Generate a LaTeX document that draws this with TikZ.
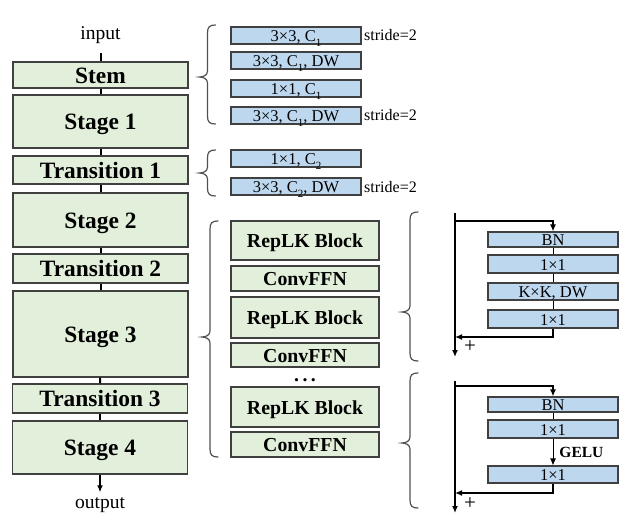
\documentclass[tikz,border=0pt]{standalone}
\usepackage{fontspec}
\setmainfont{Liberation Serif}
\usetikzlibrary{arrows.meta}
\definecolor{boxgreen}{HTML}{E2EFDA}
\definecolor{boxblue}{HTML}{BDD7EE}
\definecolor{boxline}{HTML}{404040}
\definecolor{bracegray}{HTML}{505050}
\newcommand{\lowidx}[1]{\raisebox{-0.3em}{\fontsize{11}{11}\selectfont #1}}
\newcommand{\bracepath}[4]{%
  \draw[bracestyle] (#1+8,#2) .. controls (#1+2,#2) and (#1,#2+2) .. (#1,#2+8)
    -- (#1,#3-6) .. controls (#1,#3-2) and (#1-4,#3) .. (#1-8,#3)
    .. controls (#1-4,#3) and (#1,#3+2) .. (#1,#3+6)
    -- (#1,#4-8) .. controls (#1,#4-2) and (#1+2,#4) .. (#1+8,#4);}
\begin{document}
\begin{tikzpicture}[x=1pt,y=-1pt,
  stagebox/.style={draw=boxline,line width=1.1pt,fill=boxgreen,minimum width=175pt,inner sep=0pt,text height=16pt,text depth=0pt,font=\fontsize{23.4}{24}\selectfont\bfseries},
  blockbox/.style={draw=boxline,line width=1.1pt,fill=boxgreen,minimum width=148pt,inner sep=0pt,text height=14pt,text depth=0pt,font=\fontsize{19.8}{20}\selectfont\bfseries},
  convbox/.style={draw=boxline,line width=1.1pt,fill=boxblue,minimum width=130pt,inner sep=0pt,text height=12.5pt,text depth=0.5pt,font=\fontsize{16.5}{17}\selectfont},
  note/.style={inner sep=0pt,anchor=west,font=\fontsize{16}{17}\selectfont},
  ioText/.style={font=\fontsize{19.5}{20}\selectfont,inner xsep=0pt},
  plusText/.style={inner sep=0pt,font=\fontsize{21}{21}\selectfont},
  flow/.style={line width=2pt,black},
  mainline/.style={line width=2.2pt,black},
  skip/.style={line width=1.5pt,black},
  thinline/.style={line width=0.9pt,black},
  tip/.style={-{Latex[length=7pt,width=6pt]}},
  bracestyle/.style={line width=1.2pt,bracegray,line cap=round}
]
\useasboundingbox (0,0) rectangle (626,525);

% left column
\node[ioText,anchor=base,inner ysep=9pt] (input) at (100.5,39.5) {input};
\node[stagebox,minimum height=26pt] (stem) at (100.5,75) {Stem};
\node[stagebox,minimum height=53pt] (stage1) at (100.5,121.5) {Stage 1};
\node[stagebox,minimum height=28pt] (trans1) at (100.5,170) {Transition 1};
\node[stagebox,minimum height=54pt] (stage2) at (100.5,220) {Stage 2};
\node[stagebox,minimum height=29pt] (trans2) at (100.5,268.5) {Transition 2};
\node[stagebox,minimum height=86pt] (stage3) at (100.5,334) {Stage 3};
\node[stagebox,minimum height=29pt] (trans3) at (100,398.5) {Transition 3};
\node[stagebox,minimum height=53pt] (stage4) at (100,447.5) {Stage 4};
\node[ioText,anchor=base,inner ysep=5pt] (output) at (100,508.5) {output};

\draw[flow] (input) -- (stem);
\draw[flow] (stem) -- (stage1);
\draw[flow] (stage1) -- (trans1);
\draw[flow] (trans1) -- (stage2);
\draw[flow] (stage2) -- (trans2);
\draw[flow] (trans2) -- (stage3);
\draw[flow] (stage3) -- (trans3);
\draw[flow] (trans3) -- (stage4);
\draw[flow,tip] (stage4) -- (output);

% stem / transition details
\node[convbox,minimum height=17pt] (b1) at (296,35.5) {3×3, C\lowidx{1}};
\node[convbox,minimum height=17pt] (b2) at (296,60.5) {3×3, C\lowidx{1}, DW};
\node[convbox,minimum height=17pt] (b3) at (296,88.5) {1×1, C\lowidx{1}};
\node[convbox,minimum height=17pt] (b4) at (296,115.5) {3×3, C\lowidx{1}, DW};
\node[convbox,minimum height=17pt] (b5) at (296,158.5) {1×1, C\lowidx{2}};
\node[convbox,minimum height=17pt] (b6) at (296,186.5) {3×3, C\lowidx{2}, DW};
\node[note] (s1) at (364,35.5) {stride=2};
\node[note] (s2) at (364,115.5) {stride=2};
\node[note] (s3) at (364,187) {stride=2};

\bracepath{207.5}{25}{77}{124}
\bracepath{207.5}{150}{173}{196}

% stage details
\node[blockbox,minimum height=39pt] (r1) at (305,240.5) {RepLK Block};
\node[blockbox,minimum height=25pt] (c1) at (305,278.5) {ConvFFN};
\node[blockbox,minimum height=41pt] (r2) at (305,317.5) {RepLK Block};
\node[blockbox,minimum height=24pt] (c2) at (305,355) {ConvFFN};
\node[inner sep=0pt,anchor=base,font=\fontsize{19.8}{20}\selectfont\bfseries] (dots) at (305,381) {.\hspace{3.5pt}.\hspace{3.5pt}.};
\node[blockbox,minimum height=40pt] (r3) at (305,407) {RepLK Block};
\node[blockbox,minimum height=25pt] (c3) at (305,444.5) {ConvFFN};

\bracepath{210}{221}{337}{457}

% RepLK block detail
\bracepath{410}{212}{312}{361}
\coordinate (m1top) at (455,213);
\coordinate (m1bot) at (455,357);
\coordinate (m1split) at (455,221);
\coordinate (m1join) at (455,337);
\node[convbox,minimum height=15pt] (bn1) at (553,239.5) {BN};
\node[convbox,minimum height=18pt] (p1a) at (553,264) {1×1};
\node[convbox,minimum height=17pt] (kk) at (553,291.5) {K×K, DW};
\node[convbox,minimum height=18pt] (p1b) at (553,319) {1×1};
\draw[mainline,tip] (m1top) -- (m1bot);
\draw[skip,tip] (m1split) -| (bn1);
\draw[thinline] (bn1) -- (p1a);
\draw[thinline] (p1a) -- (kk);
\draw[thinline] (kk) -- (p1b);
\draw[skip,tip] (p1b) |- (m1join);
\node[plusText] (plus1) at (470,347) {+};

% ConvFFN detail
\bracepath{410}{373}{443}{508}
\coordinate (m2top) at (455,381);
\coordinate (m2bot) at (455,513);
\coordinate (m2split) at (455,386);
\coordinate (m2join) at (455,493);
\node[convbox,minimum height=15pt] (bn2) at (553,404.5) {BN};
\node[convbox,minimum height=18pt] (p2a) at (553,429) {1×1};
\node[convbox,minimum height=17pt] (p2b) at (553,474.5) {1×1};
\draw[mainline,tip] (m2top) -- (m2bot);
\draw[skip,tip] (m2split) -| (bn2);
\draw[thinline] (bn2) -- (p2a);
\draw[thinline,tip] (p2a) -- (p2b) node[midway,right=6pt,inner sep=0pt,font=\fontsize{15.5}{16}\selectfont\bfseries] (gelu) {GELU};
\draw[skip,tip] (p2b) |- (m2join);
\node[plusText] (plus2) at (470,504) {+};
\end{tikzpicture}
\end{document}
